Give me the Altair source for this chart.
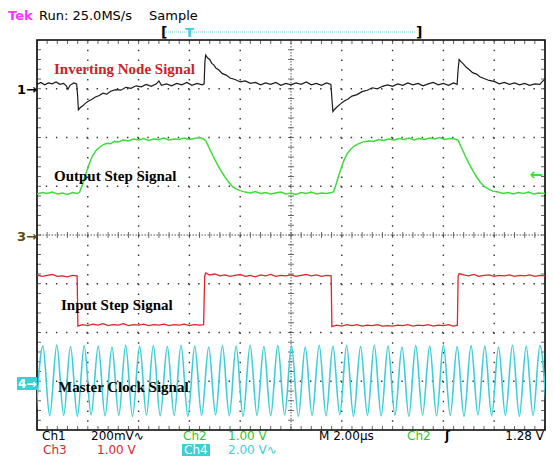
import altair as alt
import pandas as pd

# ---------------- data (time in µs, vertical in screen divisions 0..8) ----------------
CH1_POINTS = [(0.00,7.09),(0.15,7.13),(0.30,7.08),(0.45,7.12),(0.60,7.10),(0.75,7.14),(0.90,7.09),(1.05,7.11),
    (1.15,7.06),(1.22,6.99),(1.30,7.07),(1.45,7.12),(1.56,7.10),(1.60,6.85),(1.63,6.57),(1.70,6.61),(1.80,6.65),
    (1.90,6.70),(2.00,6.74),(2.15,6.78),(2.30,6.83),(2.45,6.86),(2.60,6.91),(2.75,6.89),(2.90,6.95),(3.10,6.98),
    (3.30,6.97),(3.50,7.03),(3.70,7.01),(3.90,7.06),(4.10,7.04),(4.30,7.09),(4.50,7.05),(4.70,7.10),(4.80,7.16),
    (4.90,7.07),(5.10,7.10),(5.30,7.06),(5.50,7.11),(5.70,7.08),(5.90,7.13),(6.10,7.07),(6.30,7.11),(6.50,7.08),
    (6.58,7.10),(6.61,7.55),(6.64,7.69),(6.72,7.63),(6.80,7.60),(6.88,7.52),(6.96,7.49),(7.05,7.42),(7.15,7.39),
    (7.30,7.31),(7.45,7.28),(7.60,7.22),(7.80,7.19),(8.00,7.14),(8.20,7.16),(8.40,7.11),(8.60,7.13),(8.80,7.08),
    (9.00,7.12),(9.20,7.09),(9.40,7.13),(9.60,7.07),(9.80,7.11),(10.00,7.08),(10.20,7.12),(10.40,7.09),(10.60,7.14),
    (10.80,7.08),(11.00,7.11),(11.20,7.07),(11.40,7.12),(11.57,7.09),(11.61,6.80),(11.65,6.53),(11.72,6.58),
    (11.82,6.63),(11.95,6.69),(12.10,6.75),(12.25,6.79),(12.40,6.85),(12.60,6.88),(12.80,6.94),(13.00,6.97),
    (13.20,7.02),(13.40,7.00),(13.60,7.05),(13.80,7.08),(14.00,7.05),(14.20,7.10),(14.40,7.07),(14.60,7.12),
    (14.80,7.08),(15.00,7.11),(15.20,7.06),(15.40,7.10),(15.60,7.13),(15.80,7.08),(16.00,7.11),(16.20,7.07),
    (16.40,7.12),(16.54,7.09),(16.58,7.40),(16.62,7.60),(16.70,7.55),(16.80,7.50),(16.90,7.44),(17.00,7.40),
    (17.15,7.33),(17.30,7.30),(17.45,7.24),(17.60,7.21),(17.80,7.17),(18.00,7.15),(18.20,7.10),(18.40,7.13),
    (18.60,7.09),(18.80,7.12),(19.00,7.08),(19.20,7.11),(19.40,7.07),(19.60,7.10),(19.80,7.09),(19.90,7.15),
    (20.00,7.20)]

CH2_POINTS = [(0.00,4.84),(0.20,4.87),(0.40,4.85),(0.60,4.88),(0.80,4.84),(1.00,4.86),(1.20,4.83),(1.40,4.87),
    (1.60,4.85),(1.68,4.88),(1.80,5.05),(1.92,5.25),(2.05,5.45),(2.18,5.62),(2.32,5.73),(2.46,5.80),(2.60,5.85),
    (2.75,5.88),(2.90,5.87),(3.05,5.92),(3.20,5.91),(3.40,5.95),(3.60,5.93),(3.80,5.97),(4.00,5.95),(4.20,5.98),
    (4.40,5.94),(4.60,5.97),(4.80,5.96),(5.00,5.99),(5.20,5.95),(5.40,5.97),(5.60,5.96),(5.80,5.99),(6.00,5.96),
    (6.20,5.98),(6.40,6.00),(6.55,5.97),(6.65,5.93),(6.80,5.76),(6.95,5.60),(7.10,5.45),(7.25,5.31),(7.40,5.19),
    (7.55,5.08),(7.70,4.99),(7.85,4.94),(8.00,4.91),(8.20,4.88),(8.40,4.86),(8.60,4.89),(8.80,4.85),(9.00,4.87),
    (9.20,4.84),(9.40,4.86),(9.60,4.88),(9.80,4.84),(10.00,4.86),(10.20,4.83),(10.40,4.87),(10.60,4.85),
    (10.80,4.88),(11.00,4.84),(11.20,4.86),(11.40,4.85),(11.60,4.87),(11.68,4.89),(11.80,5.08),(11.93,5.30),
    (12.06,5.50),(12.20,5.66),(12.35,5.76),(12.50,5.83),(12.65,5.87),(12.85,5.91),(13.05,5.93),(13.25,5.92),
    (13.45,5.96),(13.65,5.94),(13.85,5.97),(14.05,5.95),(14.25,5.98),(14.45,5.96),(14.65,5.99),(14.85,5.95),
    (15.05,5.98),(15.25,5.96),(15.45,5.99),(15.65,5.97),(15.85,6.00),(16.05,5.96),(16.25,5.98),(16.45,5.97),
    (16.58,5.94),(16.72,5.78),(16.87,5.61),(17.02,5.45),(17.17,5.31),(17.32,5.18),(17.47,5.07),(17.62,4.99),
    (17.78,4.94),(17.95,4.90),(18.15,4.88),(18.35,4.85),(18.55,4.87),(18.75,4.84),(18.95,4.87),(19.15,4.85),
    (19.35,4.88),(19.55,4.84),(19.75,4.86),(20.00,4.85)]

CH3_POINTS = [(0.00,3.18),(0.20,3.15),(0.40,3.17),(0.60,3.19),(0.80,3.15),(1.00,3.16),(1.20,3.14),(1.40,3.17),
    (1.58,3.16),(1.61,2.13),(1.80,2.16),(2.00,2.14),(2.20,2.17),(2.40,2.15),(2.60,2.18),(2.80,2.14),(3.00,2.16),
    (3.20,2.15),(3.40,2.18),(3.60,2.14),(3.80,2.16),(4.00,2.15),(4.20,2.17),(4.40,2.14),(4.60,2.16),(4.80,2.15),
    (5.00,2.17),(5.20,2.14),(5.40,2.16),(5.60,2.15),(5.80,2.17),(6.00,2.14),(6.20,2.16),(6.40,2.15),(6.56,2.16),
    (6.60,3.15),(6.64,3.22),(6.80,3.18),(7.00,3.20),(7.20,3.16),(7.40,3.18),(7.60,3.15),(7.80,3.17),(8.00,3.19),
    (8.20,3.15),(8.40,3.17),(8.60,3.14),(8.80,3.18),(9.00,3.16),(9.20,3.19),(9.40,3.15),(9.60,3.17),(9.80,3.16),
    (10.00,3.18),(10.20,3.15),(10.40,3.17),(10.60,3.19),(10.80,3.16),(11.00,3.18),(11.20,3.15),(11.40,3.17),
    (11.58,3.16),(11.61,2.12),(11.80,2.15),(12.00,2.13),(12.20,2.16),(12.40,2.14),(12.60,2.16),(12.80,2.13),
    (13.00,2.15),(13.20,2.14),(13.40,2.16),(13.60,2.13),(13.80,2.14),(14.00,2.13),(14.20,2.15),(14.40,2.14),
    (14.60,2.16),(14.80,2.13),(15.00,2.15),(15.20,2.14),(15.40,2.16),(15.60,2.13),(15.80,2.15),(16.00,2.14),
    (16.20,2.16),(16.40,2.13),(16.55,2.15),(16.58,3.15),(16.62,3.21),(16.80,3.18),(17.00,3.16),(17.20,3.19),
    (17.40,3.15),(17.60,3.17),(17.80,3.18),(18.00,3.15),(18.20,3.17),(18.40,3.16),(18.60,3.18),(18.80,3.15),
    (19.00,3.17),(19.20,3.16),(19.40,3.18),(19.60,3.15),(19.80,3.17),(20.00,3.16)]

# clock: alternating trough / peak times and levels
CLK_T = [-0.04, 0.23, 0.50, 0.78, 1.05, 1.32, 1.59, 1.86, 2.13, 2.41, 2.68, 2.95, 3.22, 3.49, 3.76, 4.04,
         4.31, 4.58, 4.85, 5.13, 5.40, 5.67, 5.94, 6.21, 6.48, 6.76, 7.03, 7.30, 7.57, 7.84, 8.11, 8.39,
         8.66, 8.93, 9.20, 9.48, 9.75, 10.02, 10.29, 10.56, 10.83, 11.11, 11.38, 11.65, 11.92, 12.19,
         12.46, 12.74, 13.01, 13.28, 13.55, 13.82, 14.09, 14.37, 14.64, 14.91, 15.18, 15.46, 15.73,
         16.00, 16.27, 16.54, 16.81, 17.09, 17.36, 17.63, 17.90, 18.17, 18.44, 18.72, 18.99, 19.26,
         19.53, 19.80, 20.07]
CLK_V = [0.31, 1.72, 0.29, 1.74, 0.30, 1.71, 0.28, 1.73, 0.31, 1.72, 0.29, 1.70, 0.30, 1.74, 0.28, 1.72,
         0.31, 1.73, 0.29, 1.71, 0.30, 1.74, 0.28, 1.72, 0.30, 1.70, 0.31, 1.73, 0.29, 1.72, 0.28, 1.74,
         0.30, 1.71, 0.29, 1.73, 0.31, 1.72, 0.28, 1.70, 0.30, 1.74, 0.29, 1.72, 0.31, 1.73, 0.28, 1.71,
         0.30, 1.74, 0.29, 1.72, 0.30, 1.70, 0.28, 1.73, 0.31, 1.72, 0.29, 1.74, 0.30, 1.71, 0.28, 1.73,
         0.31, 1.72, 0.29, 1.70, 0.30, 1.74, 0.28, 1.72, 0.30, 1.73, 0.29]
assert len(CLK_T) == len(CLK_V), (len(CLK_T), len(CLK_V))

GRID_T = [2, 4, 6, 8, 12, 14, 16, 18]
GRID_V = [1, 2, 3, 5, 6, 7]
MINOR_T = [round(i * 0.4, 2) for i in range(51)]
MINOR_V = [round(i * 0.2, 2) for i in range(41)]

LABELS = ["Inverting Node Signal", "Output Step Signal", "Input Step Signal", "Master Clock Signal"]

# ---------------- chart ----------------
W, H = 508, 390
XS = alt.Scale(domain=[0, 20], nice=False, zero=False)
YS = alt.Scale(domain=[0, 8], nice=False, zero=False)
BLACK, GREEN, RED, CYAN = "#1a1a1a", "#3ddc3d", "#e0242c", "#3ccfd6"
TXT_GREEN = "#2ec82e"


def xe():
    return alt.X("t:Q", scale=XS, axis=None)


def ye():
    return alt.Y("v:Q", scale=YS, axis=None)


def trace(df, color, width=1.3, interp="linear"):
    return alt.Chart(df).mark_line(color=color, strokeWidth=width, interpolate=interp, clip=True).encode(
        x=xe(), y=ye(), order="i:Q")


def frame(points):
    df = pd.DataFrame(points, columns=["t", "v"])
    df["i"] = range(len(df))
    return df


def txt(s, x, y, color="black", size=14, font="DejaVu Sans", weight="normal", align="left",
        baseline="alphabetic"):
    return alt.Chart(pd.DataFrame({"s": [s]})).mark_text(
        align=align, baseline=baseline, font=font, fontSize=size, fontWeight=weight, color=color
    ).encode(x=alt.value(x), y=alt.value(y), text="s:N")


def box(x1, x2, y1, y2, color):
    return alt.Chart(pd.DataFrame({"a": [0]})).mark_rect(color=color).encode(
        x=alt.value(x1), x2=alt.value(x2), y=alt.value(y1), y2=alt.value(y2))


layers = []
# dotted graticule
layers.append(alt.Chart(pd.DataFrame({"t": GRID_T})).mark_rule(
    color="#333", strokeWidth=1.4, strokeDash=[1.4, 8.35]).encode(x=xe()))
layers.append(alt.Chart(pd.DataFrame({"v": GRID_V})).mark_rule(
    color="#333", strokeWidth=1.4, strokeDash=[1.4, 8.76]).encode(y=ye()))
# centre cross
layers.append(alt.Chart(pd.DataFrame({"t": [10]})).mark_rule(
    color="#555", strokeWidth=1, strokeDash=[1.5, 1.5]).encode(x=xe()))
layers.append(alt.Chart(pd.DataFrame({"v": [4]})).mark_rule(
    color="#555", strokeWidth=1, strokeDash=[1.5, 1.5]).encode(y=ye()))
# minor ticks on centre cross and frame
tick_h = pd.DataFrame([(t, v) for t in MINOR_T for v in (0, 8)], columns=["t", "v"])
tick_c = pd.DataFrame([(t, 4) for t in MINOR_T], columns=["t", "v"])
tick_vv = pd.DataFrame([(t, v) for v in MINOR_V for t in (0, 20)], columns=["t", "v"])
tick_vc = pd.DataFrame([(10, v) for v in MINOR_V], columns=["t", "v"])
layers.append(alt.Chart(tick_h).mark_tick(orient="vertical", size=8, thickness=1, color="#222", clip=True)
              .encode(x=xe(), y=ye()))
layers.append(alt.Chart(tick_c).mark_tick(orient="vertical", size=6, thickness=1, color="#333")
              .encode(x=xe(), y=ye()))
layers.append(alt.Chart(tick_vv).mark_tick(orient="horizontal", size=8, thickness=1, color="#222", clip=True)
              .encode(x=xe(), y=ye()))
layers.append(alt.Chart(tick_vc).mark_tick(orient="horizontal", size=6, thickness=1, color="#333")
              .encode(x=xe(), y=ye()))

# traces
clk = pd.DataFrame({"t": CLK_T, "v": CLK_V})
clk["i"] = range(len(clk))
layers.append(trace(clk, CYAN, 1.6, "monotone"))
layers.append(trace(frame(CH3_POINTS), RED, 1.3))
layers.append(trace(frame(CH2_POINTS), GREEN, 1.5))
layers.append(trace(frame(CH1_POINTS), BLACK, 1.2))

# in-graticule labels
SERIF = "Liberation Serif"
layers.append(txt(LABELS[0], 17, 34, "#d0202c", 15, SERIF, "bold"))
layers.append(txt(LABELS[1], 17, 141, "black", 15, SERIF, "bold"))
layers.append(txt(LABELS[2], 24, 270, "black", 15, SERIF, "bold"))
layers.append(txt(LABELS[3], 21, 352, "black", 15, SERIF, "bold"))

# channel ground markers
layers.append(txt("1→", -20, 50, "black", 13, "DejaVu Sans", "bold", baseline="middle"))
layers.append(txt("3→", -20, 197, "#5a4a10", 13, "DejaVu Sans", "bold", baseline="middle"))
layers.append(box(-20, 0, 337, 350, CYAN))
layers.append(txt("4→", -19, 344, "white", 12, "DejaVu Sans", "bold", baseline="middle"))
# trigger level marker
layers.append(txt("←", 506, 135, GREEN, 16, "DejaVu Sans", "bold", align="right", baseline="middle"))

# header
layers.append(txt("Tek", -29, -20, "#ff33ff", 13, "DejaVu Sans", "bold"))
layers.append(txt("Run: 25.0MS/s", 2, -20, "black", 13, "DejaVu Sans"))
layers.append(txt("Sample", 112, -20, "black", 13, "DejaVu Sans"))
# trigger position bracket
layers.append(alt.Chart(pd.DataFrame({"a": [0]})).mark_rule(color="#9ee8ee", strokeWidth=1.5, strokeDash=[1, 1])
              .encode(x=alt.value(129), x2=alt.value(378), y=alt.value(-8)))
layers.append(txt("[", 124, -3, "black", 14, "DejaVu Sans", "bold"))
layers.append(txt("]", 379, -3, "black", 14, "DejaVu Sans", "bold"))
layers.append(txt("T", 148, -3, CYAN, 13, "DejaVu Sans", "bold"))

# bottom readout
R1, R2 = 400, 414
FS = 12
layers.append(txt("Ch1", 5, R1, "black", FS))
layers.append(txt("200mV∿", 54, R1, "black", FS))
layers.append(txt("Ch2", 146, R1, TXT_GREEN, FS))
layers.append(txt("1.00 V", 191, R1, TXT_GREEN, FS))
layers.append(txt("M 2.00µs", 282, R1, "black", FS))
layers.append(txt("Ch2", 370, R1, TXT_GREEN, FS))
layers.append(txt("ʃ", 408, R1, "black", FS, weight="bold"))
layers.append(txt("1.28 V", 507, R1, "black", FS, align="right"))
layers.append(txt("Ch3", 6, R2, RED, FS))
layers.append(txt("1.00 V", 60, R2, RED, FS))
layers.append(box(145, 173, 404, 416, CYAN))
layers.append(txt("Ch4", 147, R2, "white", FS))
layers.append(txt("2.00 V∿", 191, R2, CYAN, FS))

chart = alt.layer(*layers).properties(
    width=W, height=H,
    padding={"left": 29, "top": 32, "right": 1, "bottom": 27},
    autosize=alt.AutoSizeParams(type="none"),
    background="white",
).configure_view(stroke="black", strokeWidth=1.6)

chart.save("out.html", embed_options={"renderer": "svg", "actions": False})
